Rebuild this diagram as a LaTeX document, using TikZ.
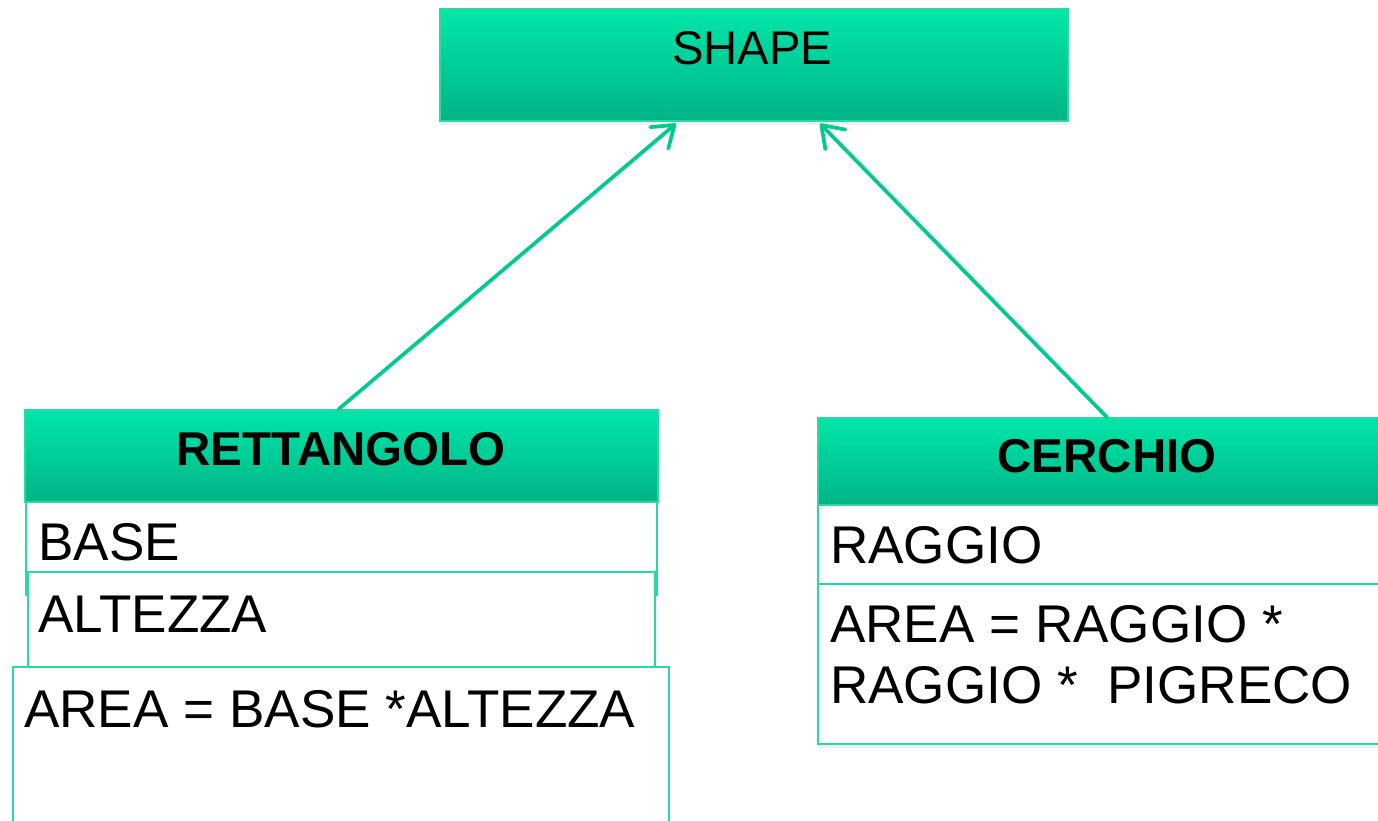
\documentclass[tikz,border=0pt]{standalone}
\usepackage{fontspec}
\setmainfont{Liberation Sans}
\usetikzlibrary{arrows.meta,calc,fit,shadows}
\definecolor{gtop}{RGB}{0,230,168}
\definecolor{gbot}{RGB}{0,180,134}
\definecolor{gline}{RGB}{45,215,160}
\definecolor{garrow}{RGB}{0,201,148}
\tikzset{
  hdr/.style={draw=gline, line width=1.1pt, inner sep=0pt, top color=gtop, middle color=gtop!75!gbot, bottom color=gbot,
    drop shadow={opacity=0.12, shadow xshift=0pt, shadow yshift=-3pt}},
  wbox/.style={draw=gline, line width=1.1pt, inner sep=0pt, fill=white},
  wboxs/.style={wbox, drop shadow={opacity=0.12, shadow xshift=0pt, shadow yshift=-3pt}},
  hdrtxt/.style={inner sep=0pt, font=\fontsize{35.4pt}{42pt}\selectfont},
  bodytxt/.style={inner sep=0pt, font=\fontsize{39.8pt}{46pt}\selectfont},
  conn/.style={draw=garrow, line width=2.8pt, line cap=round,
    -{Straight Barb[length=15pt, width=21pt, line cap=round, line join=round]}},
}
\begin{document}
\begin{tikzpicture}[x=0.75pt,y=-0.75pt]
\useasboundingbox (0,0) rectangle (1378,821);
\clip (0,0) rectangle (1378,821);
% SHAPE
\node[hdr, fit={(440,9)(1068,121)}] (shape) {};
\node[hdrtxt, anchor=base] (tshape) at (752,64) {SHAPE};
% RETTANGOLO
\node[hdr, fit={(25,410)(658,502)}] (rhead) {};
\node[hdrtxt, anchor=base, font=\fontsize{35.6pt}{42pt}\selectfont\bfseries] (trett) at (341,465) {RETTANGOLO};
\node[wbox, fit={(26,502)(657,595)}] (rbase) {};
\node[wbox, fit={(28,572)(655,667)}] (ralt) {};
\node[wbox, fit={(13,667)(669,860)}] (rarea) {};
\node[bodytxt, anchor=base west] (tbase) at (38,560) {BASE};
\node[bodytxt, anchor=base west] (talt) at (38,632) {ALTEZZA};
\node[bodytxt, anchor=base west] (tarea) at (24,727) {AREA = BASE *ALTEZZA};
% CERCHIO
\node[hdr, fit={(818,418)(1396,505)}] (chead) {};
\node[hdrtxt, anchor=base, font=\fontsize{35.6pt}{42pt}\selectfont\bfseries] (tcerc) at (1107,472) {CERCHIO};
\node[wbox, fit={(818,505)(1396,584)}] (craggio) {};
\node[wboxs, fit={(818,584)(1396,744)}] (carea) {};
\node[bodytxt, anchor=base west] (traggio) at (830,563) {RAGGIO};
\node[bodytxt, anchor=base west] (tcarea1) at (830,642) {AREA = RAGGIO *};
\node[bodytxt, anchor=base west] (tcarea2) at (830,703) {RAGGIO *\ \ PIGRECO};
% connectors
\draw[conn] ($(rhead.north)+(-3,0)$) -- ($(shape.south west)!0.376!(shape.south east)+(0,2)$);
\draw[conn] (chead.north) -- ($(shape.south west)!0.605!(shape.south east)+(0,2)$);
\end{tikzpicture}
\end{document}
